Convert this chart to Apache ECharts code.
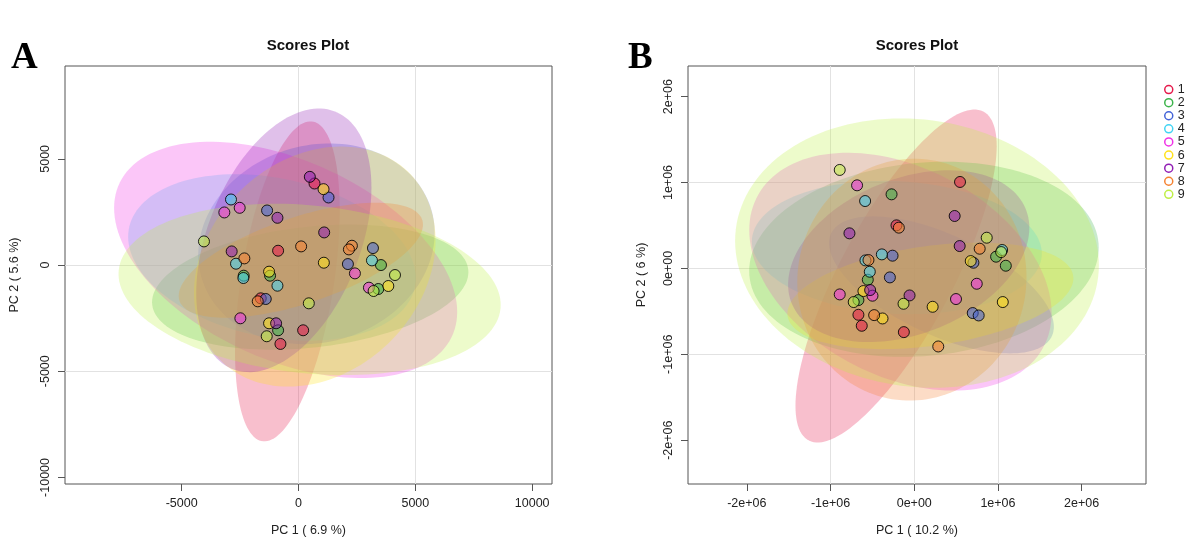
<!DOCTYPE html>
<html>
<head>
<meta charset="utf-8">
<title>Scores Plot</title>
<script src="https://cdn.jsdelivr.net/npm/echarts@6/dist/echarts.min.js"></script>
<style>
  html, body { margin: 0; padding: 0; background: #fff; }
  #chart { width: 1188px; height: 542px; }
</style>
</head>
<body>
<div id="chart"></div>
<script>
// group names and the palette used for them
const groups = ['1', '2', '3', '4', '5', '6', '7', '8', '9'];
const colors = ['#e6194b', '#3cb44b', '#4363d8', '#42d4f4', '#f032e6', '#ffe119', '#911eb4', '#f58231', '#bfef45'];

// panel A scores: [group, PC1, PC2]
const scoresA = [
  [1, 686, 3839], [1, -872, 674], [1, -1615, -1567], [1, 200, -3071], [1, -772, -3714],
  [2, 3530, 0], [2, -2344, -501], [2, -1215, -501], [2, 3415, -1128], [2, -872, -3071],
  [3, 1286, 3181], [3, -1343, 2570], [3, 3187, 799], [3, 2115, 47], [3, -1400, -1598],
  [4, -2887, 3087], [4, -2672, 63], [4, 3144, 219], [4, -2358, -611], [4, -900, -972],
  [5, -3172, 2476], [5, -2515, 2695], [5, 2415, -392], [5, 3015, -1066], [5, -2486, -2507],
  [6, 1072, 3573], [6, 1086, 110], [6, -1258, -313], [6, 3844, -987], [6, -1258, -2742],
  [7, 486, 4153], [7, -900, 2225], [7, 1100, 1536], [7, -2858, 642], [7, -957, -2742],
  [8, -2315, 313], [8, 114, 878], [8, 2286, 909], [8, 2158, 736], [8, -1743, -1708],
  [9, -4044, 1113], [9, 4130, -470], [9, 443, -1802], [9, -1358, -3353], [9, 3215, -1222]
];
// panel A 95% ellipses: [group, centre PC1, centre PC2, half width, half height, r]
const ellipsesA = [
  [1, -475, -768, 2239, 7534, 0.44],
  [2, 503, -1040, 6767, 2945, 0.24],
  [3, 769, 1000, 5058, 4726, 0.11],
  [4, -1135, 357, 6153, 3919, -0.25],
  [5, -549, 241, 7340, 5564, -0.44],
  [6, 697, -72, 5168, 5652, 0.22],
  [7, -626, 1163, 3748, 6206, 0.40],
  [8, 100, 226, 5226, 2708, 0.62],
  [9, 477, -1147, 8176, 4034, -0.18]
];

// panel B scores: [group, PC1, PC2]
const scoresB = [
  [1, 547000, 1006000], [1, -212000, 501000], [1, -667000, -540000], [1, -627000, -668000], [1, -124000, -742000],
  [2, -271000, 862000], [2, 978000, 136000], [2, 1094000, 31000], [2, -555000, -132000], [2, -667000, -369000],
  [3, -259000, 148000], [3, 707000, 66000], [3, -291000, -105000], [3, 699000, -520000], [3, 770000, -548000],
  [4, -587000, 784000], [4, 1050000, 214000], [4, -387000, 163000], [4, -583000, 93000], [4, -531000, -39000],
  [5, -683000, 967000], [5, -499000, -318000], [5, -890000, -303000], [5, 499000, -357000], [5, 747000, -179000],
  [6, 675000, 85000], [6, -607000, -264000], [6, 220000, -447000], [6, 1058000, -392000], [6, -379000, -583000],
  [7, 483000, 610000], [7, -774000, 408000], [7, 543000, 260000], [7, -527000, -252000], [7, -56000, -315000],
  [8, -184000, 474000], [8, 782000, 229000], [8, -547000, 97000], [8, -479000, -544000], [8, 287000, -909000],
  [9, -890000, 1146000], [9, 866000, 357000], [9, -723000, -392000], [9, -128000, -412000], [9, 1038000, 190000]
];
// panel B 95% ellipses: [group, centre PC1, centre PC2, half width, half height, r]
const ellipsesB = [
  [1, -217000, -89000, 1202000, 1938000, 0.78],
  [2, 116000, 106000, 2088000, 1136000, 0.12],
  [3, 325000, -192000, 1343000, 798000, -0.61],
  [4, -208000, 243000, 1732000, 776000, -0.09],
  [5, -165000, -38000, 1806000, 1384000, -0.35],
  [6, 193000, -320000, 1708000, 620000, 0.33],
  [7, -66000, 142000, 1441000, 1000000, 0.33],
  [8, -28000, -131000, 1369000, 1408000, 0.02],
  [9, 33000, 178000, 2173000, 1568000, -0.09]
];

// tick positions
const ticksAx = [-5000, 0, 5000, 10000];
const ticksAy = [-10000, -5000, 0, 5000];
const ticksBx = [-2000000, -1000000, 0, 1000000, 2000000];
const ticksBy = [-2000000, -1000000, 0, 1000000, 2000000];

const FONT = '"Liberation Sans", Arial, sans-serif';

function rgba(hex, a) {
  const n = parseInt(hex.slice(1), 16);
  return 'rgba(' + (n >> 16) + ',' + ((n >> 8) & 255) + ',' + (n & 255) + ',' + a + ')';
}

// R style scientific labels: 2e+06, 0e+00
function sci(v) {
  return v.toExponential(0).replace(/e([+-])(\d)$/, 'e$10$2');
}

function xAxisOf(idx, min, max, step, ticks, name, fmt) {
  return {
    gridIndex: idx, type: 'value', min: min, max: max, position: 'bottom',
    splitNumber: 4, minInterval: step, maxInterval: step,
    axisLine: { show: false, onZero: false },
    axisTick: { show: true, length: 7, customValues: ticks, lineStyle: { color: '#555' } },
    axisLabel: { customValues: ticks, margin: 13, fontFamily: FONT, fontSize: 12.5, color: '#222', formatter: fmt },
    splitLine: { show: true, showMinLine: false, showMaxLine: false, lineStyle: { color: '#e2e2e2', width: 1 } },
    name: name, nameLocation: 'middle', nameGap: 40,
    nameTextStyle: { fontFamily: FONT, fontSize: 12.5, color: '#222' }
  };
}

function yAxisOf(idx, min, max, step, ticks, name, fmt, gap) {
  return {
    gridIndex: idx, type: 'value', min: min, max: max, position: 'left',
    splitNumber: 4, minInterval: step, maxInterval: step,
    axisLine: { show: false, onZero: false },
    axisTick: { show: true, length: 7, customValues: ticks, lineStyle: { color: '#555' } },
    axisLabel: { customValues: ticks, rotate: 90, margin: 13, fontFamily: FONT, fontSize: 12.5, color: '#222', formatter: fmt },
    splitLine: { show: true, showMinLine: false, showMaxLine: false, lineStyle: { color: '#e2e2e2', width: 1 } },
    name: name, nameLocation: 'middle', nameGap: gap, nameRotate: 90,
    nameTextStyle: { fontFamily: FONT, fontSize: 12.5, color: '#222' }
  };
}

function ellipseSeries(rows, gi) {
  return {
    type: 'custom', xAxisIndex: gi, yAxisIndex: gi, z: 1, silent: true, clip: true,
    data: rows,
    encode: { x: 1, y: 2 },
    renderItem: function (params, api) {
      const g = api.value(0), cx = api.value(1), cy = api.value(2);
      const sx = api.value(3), sy = api.value(4), r = api.value(5);
      const k = Math.sqrt(1 - r * r);
      const pts = [];
      for (let i = 0; i < 144; i++) {
        const t = i / 144 * Math.PI * 2;
        pts.push(api.coord([cx + sx * Math.cos(t), cy + sy * (r * Math.cos(t) + k * Math.sin(t))]));
      }
      return { type: 'polygon', shape: { points: pts }, style: { fill: rgba(colors[g - 1], 0.28) } };
    }
  };
}

function pointSeries(rows, gi) {
  return groups.map(function (g, i) {
    return {
      type: 'scatter', name: g, xAxisIndex: gi, yAxisIndex: gi, z: 3,
      symbol: 'circle', symbolSize: 11,
      data: rows.filter(function (d) { return d[0] === i + 1; }).map(function (d) { return [d[1], d[2]]; }),
      itemStyle: { color: rgba(colors[i], 0.55), borderColor: 'rgba(0,0,0,0.85)', borderWidth: 1, opacity: 1 },
      emphasis: { disabled: true }
    };
  });
}

const chart = echarts.init(document.getElementById('chart'), null, { renderer: 'canvas' });

const option = {
  backgroundColor: '#fff',
  animation: false,
  grid: [
    { left: 65, top: 66, width: 487, height: 420, show: true, borderColor: '#555', borderWidth: 1, backgroundColor: 'transparent' },
    { left: 688, top: 66, width: 458, height: 420, show: true, borderColor: '#555', borderWidth: 1, backgroundColor: 'transparent' }
  ],
  xAxis: [
    xAxisOf(0, -9990, 10848, 5000, ticksAx, 'PC 1 ( 6.9 %)', function (v) { return String(v); }),
    xAxisOf(1, -2703000, 2769000, 1000000, ticksBx, 'PC 1 ( 10.2 %)', sci)
  ],
  yAxis: [
    yAxisOf(0, -10309, 9372, 5000, ticksAy, 'PC 2 ( 5.6 %)', function (v) { return String(v); }, 44),
    yAxisOf(1, -2510000, 2356000, 1000000, ticksBy, 'PC 2 ( 6 %)', sci, 40)
  ],
  legend: {
    orient: 'vertical', left: 1164, top: 83, padding: 0,
    itemWidth: 8, itemHeight: 8, itemGap: 0, icon: 'circle', selectedMode: false,
    data: groups.map(function (g, i) {
      return { name: g, itemStyle: { color: '#fff', borderColor: colors[i], borderWidth: 1.5 } };
    }),
    textStyle: { fontFamily: FONT, fontSize: 12.5, color: '#222', lineHeight: 13.1 }
  },
  graphic: [
    { type: 'text', x: 11, y: 40, style: { text: 'A', font: 'bold 37px "Liberation Serif", "DejaVu Serif", serif', fill: '#000', textVerticalAlign: 'alphabetic' } },
    { type: 'text', x: 628, y: 40, style: { text: 'B', font: 'bold 37px "Liberation Serif", "DejaVu Serif", serif', fill: '#000', textVerticalAlign: 'alphabetic' } },
    { type: 'text', x: 308, y: 46, style: { text: 'Scores Plot', font: 'bold 15px "Liberation Sans", Arial, sans-serif', fill: '#111', textAlign: 'center', textVerticalAlign: 'middle' } },
    { type: 'text', x: 917, y: 46, style: { text: 'Scores Plot', font: 'bold 15px "Liberation Sans", Arial, sans-serif', fill: '#111', textAlign: 'center', textVerticalAlign: 'middle' } }
  ],
  series: [ellipseSeries(ellipsesA, 0), ellipseSeries(ellipsesB, 1)]
    .concat(pointSeries(scoresA, 0))
    .concat(pointSeries(scoresB, 1))
};

chart.setOption(option);
</script>
</body>
</html>
